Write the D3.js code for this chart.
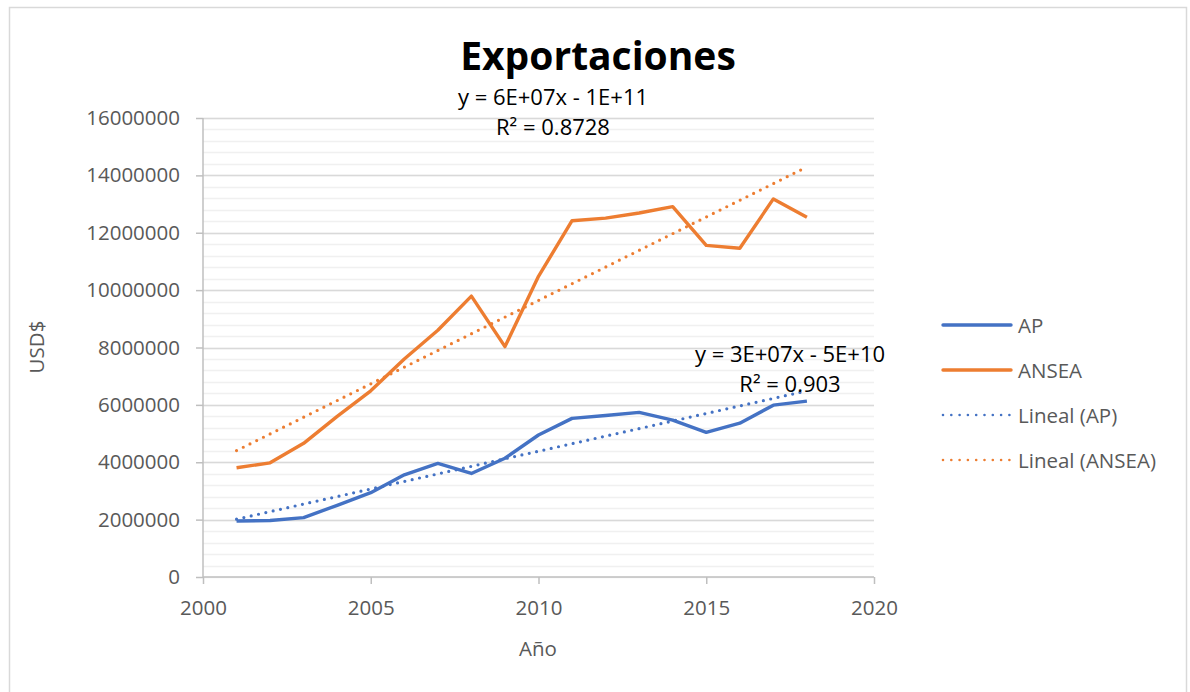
<!DOCTYPE html>
<html>
<head>
<meta charset="utf-8">
<script src="https://cdn.jsdelivr.net/npm/d3@7"></script>
<style>
  body { margin: 0; background: #fff; }
  text { font-family: "Open Sans", "Liberation Sans", sans-serif; }
</style>
</head>
<body>
<div id="chart"></div>
<script>
(function() {
	var years = [2001, 2002, 2003, 2004, 2005, 2006, 2007, 2008, 2009, 2010, 2011, 2012, 2013, 2014, 2015, 2016, 2017, 2018]
	var ap = [1950000, 1970000, 2070000, 2500000, 2940000, 3560000, 3960000, 3610000, 4140000, 4950000, 5530000, 5630000, 5740000, 5470000, 5040000, 5360000, 5990000, 6130000]
	var ansea = [3810000, 3980000, 4660000, 5600000, 6490000, 7600000, 8600000, 9790000, 8030000, 10480000, 12420000, 12510000, 12690000, 12910000, 11560000, 11460000, 13180000, 12540000]
	var yTicks = [0, 2000000, 4000000, 6000000, 8000000, 10000000, 12000000, 14000000, 16000000]
	var xTicks = [2000, 2005, 2010, 2015, 2020]
	var legendLabels = ["AP", "ANSEA", "Lineal (AP)", "Lineal (ANSEA)"]
	var eqAP = ["y = 3E+07x - 5E+10", "R² = 0.903"]
	var eqANSEA = ["y = 6E+07x - 1E+11", "R² = 0.8728"]

	var width = 1190, height = 692
	var blue = "#4472C4", orange = "#ED7D31"

	var svg = d3.select("#chart")
		.append("svg")
		.attr("width", width)
		.attr("height", height)

	svg.append("rect")
		.attr("x", 9.5).attr("y", 7.5)
		.attr("width", 1177).attr("height", 700)
		.attr("fill", "#fff")
		.attr("stroke", "#d9d9d9")
		.attr("stroke-width", 1.5)

	var x = d3.scaleLinear().domain([2000, 2020]).range([203, 874])
	var y = d3.scaleLinear().domain([0, 16000000]).range([577, 118])

	// minor gridlines
	var minor = d3.range(0, 16000001, 400000)
	svg.selectAll(".minor")
		.data(minor)
		.enter().append("line")
		.attr("x1", x(2000)).attr("x2", x(2020))
		.attr("y1", d => Math.round(y(d)) + 0.5).attr("y2", d => Math.round(y(d)) + 0.5)
		.attr("stroke", "#f0f0f0")
		.attr("stroke-width", 1.3)

	svg.selectAll(".major")
		.data(yTicks.slice(1))
		.enter().append("line")
		.attr("x1", x(2000)).attr("x2", x(2020))
		.attr("y1", d => Math.round(y(d)) + 0.5).attr("y2", d => Math.round(y(d)) + 0.5)
		.attr("stroke", "#d9d9d9")
		.attr("stroke-width", 1.3)

	// axes
	var yAxis = svg.append("g")
		.attr("transform", "translate(" + x(2000) + ",0)")
		.call(d3.axisLeft(y).tickValues(yTicks).tickFormat(d3.format("d")).tickSize(7).tickPadding(16))
	var xAxis = svg.append("g")
		.attr("transform", "translate(0," + y(0) + ")")
		.call(d3.axisBottom(x).tickValues(xTicks).tickFormat(d3.format("d")).tickSize(7).tickPadding(16))

	;[yAxis, xAxis].forEach(function(a) {
		a.select(".domain").attr("stroke", "#bfbfbf").attr("stroke-width", 1.5)
		a.selectAll(".tick line").attr("stroke", "#bfbfbf").attr("stroke-width", 1.5)
		a.selectAll(".tick text").attr("fill", "#595959").style("font-size", "20.5px")
	})
	yAxis.select(".domain").attr("d", "M0," + y(16000000) + "V" + y(0))
	xAxis.select(".domain").attr("d", "M" + x(2000) + ",0H" + x(2020))

	// regression lines from data
	function fit(vals) {
		var n = years.length
		var mx = d3.mean(years), my = d3.mean(vals)
		var sxy = d3.sum(years, (d, i) => (d - mx) * (vals[i] - my))
		var sxx = d3.sum(years, d => (d - mx) * (d - mx))
		var b = sxy / sxx, a = my - b * mx
		return [[years[0], a + b * years[0]], [years[n - 1], a + b * years[n - 1]]]
	}

	var line = d3.line().x(d => x(d[0])).y(d => y(d[1]))

	function series(vals, color) {
		svg.append("path")
			.datum(years.map((d, i) => [d, vals[i]]))
			.attr("d", line)
			.attr("fill", "none")
			.attr("stroke", color)
			.attr("stroke-width", 3.4)
			.attr("stroke-linejoin", "round")
	}
	function trend(vals, color) {
		svg.append("path")
			.datum(fit(vals))
			.attr("d", line)
			.attr("fill", "none")
			.attr("stroke", color)
			.attr("stroke-width", 3.2)
			.attr("stroke-linecap", "round")
			.attr("stroke-dasharray", "0,7.5")
	}

	series(ap, blue)
	series(ansea, orange)
	trend(ap, blue)
	trend(ansea, orange)

	// equation labels
	function eq(lines, cx, cy) {
		svg.selectAll(null)
			.data(lines)
			.enter().append("text")
			.attr("x", cx)
			.attr("y", (d, i) => cy + i * 30)
			.attr("text-anchor", "middle")
			.attr("fill", "#000")
			.style("font-size", "22px")
			.text(d => d)
	}
	eq(eqANSEA, 553, 105)
	eq(eqAP, 790, 362)

	// title
	svg.append("text")
		.attr("x", 598).attr("y", 70)
		.attr("text-anchor", "middle")
		.style("font-size", "39px")
		.style("font-weight", "bold")
		.attr("fill", "#000")
		.text("Exportaciones")

	// axis titles
	svg.append("text")
		.attr("transform", "translate(44,347) rotate(-90)")
		.attr("text-anchor", "middle")
		.attr("fill", "#595959")
		.style("font-size", "20.5px")
		.text("USD$")
	svg.append("text")
		.attr("x", 538).attr("y", 656)
		.attr("text-anchor", "middle")
		.attr("fill", "#595959")
		.style("font-size", "20.5px")
		.text("Año")

	// legend
	var legendY = [325, 370, 415, 460]
	var lg = svg.selectAll(".legend")
		.data(legendLabels)
		.enter().append("g")
		.attr("transform", (d, i) => "translate(941," + legendY[i] + ")")
	lg.append("line")
		.attr("x1", 2).attr("x2", 70)
		.attr("stroke", (d, i) => i % 2 === 0 ? blue : orange)
		.attr("stroke-width", (d, i) => i < 2 ? 3.4 : 2.6)
		.attr("stroke-linecap", "round")
		.attr("stroke-dasharray", (d, i) => i < 2 ? null : "0,8.3")
	lg.append("text")
		.attr("x", 77).attr("y", 7.5)
		.attr("fill", "#595959")
		.style("font-size", "20.5px")
		.text(d => d)
})();
</script>
</body>
</html>
